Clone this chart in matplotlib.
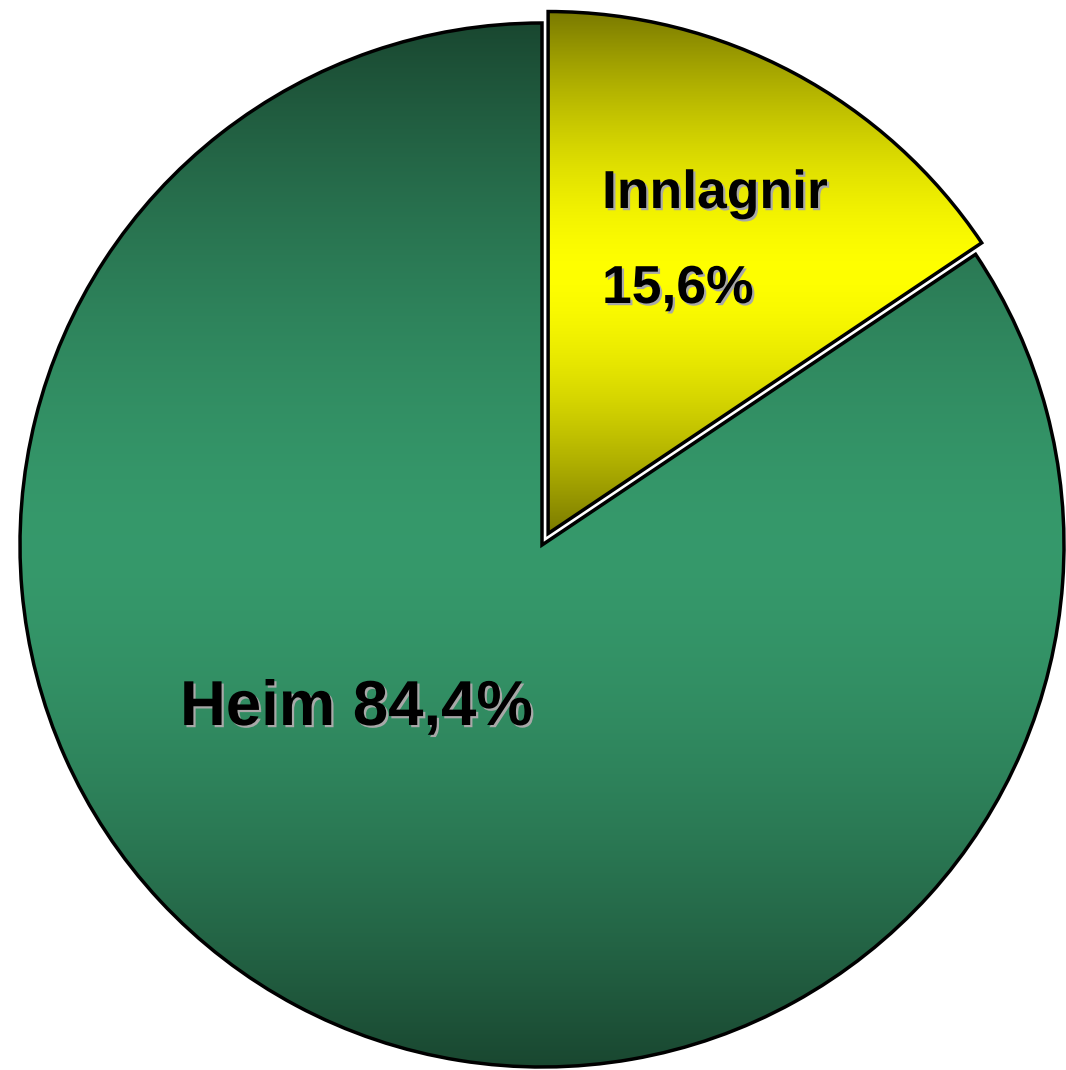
import numpy as np
import matplotlib
matplotlib.use("Agg")
import matplotlib.pyplot as plt
import matplotlib.patheffects as pe

# data
labels = ["Innlagnir", "Heim"]
shares = [15.6, 84.4]

# slice colours: (edge of gradient, middle of gradient)
dark_cols = [(0.48, 0.48, 0.00), (0.10, 0.28, 0.19)]
bright_cols = [(1.00, 1.00, 0.00), (0.21, 0.60, 0.42)]

W, H = 1066, 1070
fig = plt.figure(figsize=(W / 100, H / 100), dpi=100)
ax = fig.add_axes([0, 0, 1, 1])

cx, cy, r = 542, H - 545, 522

# explode is in data units (pixels here)
wedges, _ = ax.pie(shares, startangle=90, counterclock=False,
                   explode=[13, 0], radius=r, center=(cx, cy),
                   wedgeprops=dict(facecolor="none", edgecolor="black",
                                   linewidth=2.5, zorder=3),
                   frame=True)


def vgrad(dark, bright, n=256):
    # dark at top and bottom, bright in a wide middle band
    t = np.linspace(-1, 1, n)
    w = 1 - np.abs(t) ** 1.6
    d = np.array(dark)
    b = np.array(bright)
    rows = d[None, :] + (b - d)[None, :] * w[:, None]
    return rows[:, None, :]


for wdg, dk, br in zip(wedges, dark_cols, bright_cols):
    bb = wdg.get_path().get_extents(wdg.get_patch_transform())
    im = ax.imshow(vgrad(dk, br), extent=[bb.x0, bb.x1, bb.y0, bb.y1],
                   aspect="auto", interpolation="bilinear", zorder=2,
                   origin="upper")
    im.set_clip_path(wdg)

ax.set_xlim(0, W)
ax.set_ylim(0, H)
ax.set_aspect("equal")
ax.axis("off")

shadow = [pe.SimplePatchShadow(offset=(1.6, -1.6), shadow_rgbFace="#a8a8a8", alpha=1.0),
          pe.Normal()]
ax.text(602, H - 208, "Innlagnir", fontsize=38.5, fontweight="bold",
        family="Liberation Sans", va="baseline", ha="left", zorder=5,
        path_effects=shadow)
ax.text(602, H - 303, "15,6%", fontsize=38.5, fontweight="bold",
        family="Liberation Sans", va="baseline", ha="left", zorder=5,
        path_effects=shadow)
ax.text(180, H - 725, "Heim 84,4%", fontsize=45.7, fontweight="bold",
        family="Liberation Sans", va="baseline", ha="left", zorder=5,
        path_effects=shadow)

fig.savefig("out.png", dpi=100, facecolor="white")
